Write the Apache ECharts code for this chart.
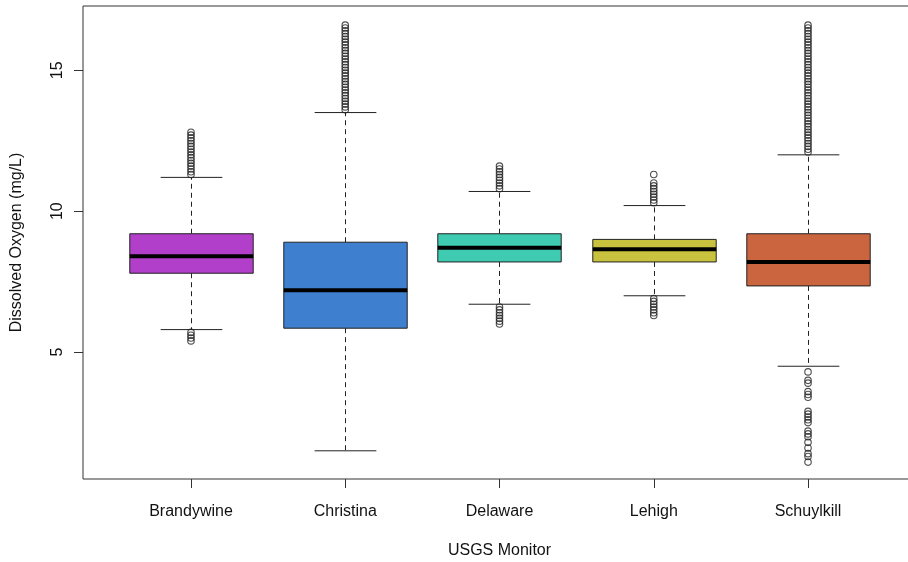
<!DOCTYPE html>
<html>
<head>
<meta charset="utf-8">
<script src="https://cdn.jsdelivr.net/npm/echarts@6/dist/echarts.min.js"></script>
<style>
html,body{margin:0;padding:0;background:#fff;}
#chart{width:908px;height:562px;}
</style>
</head>
<body>
<div id="chart"></div>
<script>
// ---- data ----
const categories = ['Brandywine', 'Christina', 'Delaware', 'Lehigh', 'Schuylkill'];
const whiskerLow  = [5.8, 1.5, 6.7, 7.0, 4.5];
const q1          = [7.8, 5.85, 8.2, 8.2, 7.35];
const medians     = [8.4, 7.2, 8.7, 8.65, 8.2];
const q3          = [9.2, 8.9, 9.2, 9.0, 9.2];
const whiskerHigh = [11.2, 13.5, 10.7, 10.2, 12.0];

const brandywineOutliers = [11.3, 11.4, 11.5, 11.6, 11.7, 11.8, 11.9, 12.0, 12.1, 12.2, 12.3, 12.4, 12.5, 12.6, 12.7, 12.8,
  5.7, 5.6, 5.5, 5.4];
const christinaOutliers = [13.6, 13.7, 13.8, 13.9, 14.0, 14.1, 14.2, 14.3, 14.4, 14.5, 14.6, 14.7, 14.8, 14.9, 15.0,
  15.1, 15.2, 15.3, 15.4, 15.5, 15.6, 15.7, 15.8, 15.9, 16.0, 16.1, 16.2, 16.3, 16.4, 16.5, 16.6];
const delawareOutliers = [10.8, 10.9, 11.0, 11.1, 11.2, 11.3, 11.4, 11.5, 11.6,
  6.6, 6.5, 6.4, 6.3, 6.2, 6.1, 6.0];
const lehighOutliers = [10.3, 10.4, 10.5, 10.6, 10.7, 10.8, 10.9, 11.0, 11.3,
  6.9, 6.8, 6.7, 6.6, 6.5, 6.4, 6.3];
const schuylkillOutliers = [12.1, 12.2, 12.3, 12.4, 12.5, 12.6, 12.7, 12.8, 12.9, 13.0, 13.1, 13.2, 13.3, 13.4, 13.5,
  13.6, 13.7, 13.8, 13.9, 14.0, 14.1, 14.2, 14.3, 14.4, 14.5, 14.6, 14.7, 14.8, 14.9, 15.0, 15.1, 15.2, 15.3, 15.4,
  15.5, 15.6, 15.7, 15.8, 15.9, 16.0, 16.1, 16.2, 16.3, 16.4, 16.5, 16.6,
  4.3, 4.0, 3.9, 3.6, 3.5, 3.4, 2.9, 2.8, 2.7, 2.6, 2.5, 2.2, 2.1, 2.0, 1.8, 1.6, 1.4, 1.3, 1.1];
const outliers = [brandywineOutliers, christinaOutliers, delawareOutliers, lehighOutliers, schuylkillOutliers];
const yTicks = [5, 10, 15];

// ---- styles ----
const boxColors = ['#B13FC9', '#3F7FCF', '#3FCBB1', '#C9C23F', '#CA653F'];
const FONT = '"Liberation Sans", Arial, sans-serif';

const boxData = categories.map((c, i) => [i + 1, whiskerLow[i], q1[i], medians[i], q3[i], whiskerHigh[i]]);
const outlierData = [];
outliers.forEach((list, i) => list.forEach(v => outlierData.push([i + 1, v])));

const chart = echarts.init(document.getElementById('chart'), null, {renderer: 'canvas'});
chart.setOption({
  animation: false,
  backgroundColor: '#fff',
  grid: {left: 83, top: 6, right: -8, bottom: 83, outerBoundsMode: 'none', containLabel: false,
    show: true, borderColor: '#333', borderWidth: 1, backgroundColor: 'transparent'},
  xAxis: {
    type: 'value', min: 0.3, max: 5.7,
    splitLine: {show: false},
    axisLine: {show: false},
    axisTick: {show: true, length: 9, customValues: [1, 2, 3, 4, 5], lineStyle: {color: '#333'}},
    axisLabel: {customValues: [1, 2, 3, 4, 5], margin: 25, color: '#111', fontSize: 16, fontFamily: FONT,
      formatter: v => categories[Math.round(v) - 1] || ''},
    name: 'USGS Monitor', nameLocation: 'middle', nameGap: 64,
    nameTextStyle: {color: '#111', fontSize: 16, fontFamily: FONT}
  },
  yAxis: {
    type: 'value', min: 0.5, max: 17.28,
    splitLine: {show: false},
    axisLine: {show: false},
    axisTick: {show: true, length: 9, customValues: yTicks, lineStyle: {color: '#333'}},
    axisLabel: {customValues: yTicks, rotate: 90, margin: 17, color: '#111', fontSize: 16, fontFamily: FONT},
    name: 'Dissolved Oxygen (mg/L)', nameLocation: 'middle', nameGap: 58, nameRotate: 90,
    nameTextStyle: {color: '#111', fontSize: 16, fontFamily: FONT}
  },
  series: [
    {
      type: 'custom',
      data: boxData,
      encode: {x: 0, y: [1, 2, 3, 4, 5]},
      renderItem: function (params, api) {
        const x = api.value(0);
        const lo = api.coord([x, api.value(1)]);
        const b1 = api.coord([x, api.value(2)]);
        const md = api.coord([x, api.value(3)]);
        const b3 = api.coord([x, api.value(4)]);
        const hi = api.coord([x, api.value(5)]);
        const unit = api.size([1, 0])[0];
        const bw = unit * 0.4, cw = unit * 0.2;
        const cx = Math.round(lo[0]) + 0.5;
        const dash = {stroke: '#222', lineWidth: 1, lineDash: [5, 4]};
        const solid = {stroke: '#222', lineWidth: 1};
        return {type: 'group', children: [
          {type: 'line', shape: {x1: cx, y1: b3[1], x2: cx, y2: hi[1]}, style: dash},
          {type: 'line', shape: {x1: cx, y1: b1[1], x2: cx, y2: lo[1]}, style: dash},
          {type: 'line', shape: {x1: cx - cw, y1: hi[1], x2: cx + cw, y2: hi[1]}, style: solid},
          {type: 'line', shape: {x1: cx - cw, y1: lo[1], x2: cx + cw, y2: lo[1]}, style: solid},
          {type: 'rect', shape: {x: cx - bw, y: b3[1], width: 2 * bw, height: b1[1] - b3[1]},
            style: {fill: boxColors[params.dataIndex], stroke: '#222', lineWidth: 1}},
          {type: 'line', shape: {x1: cx - bw, y1: md[1], x2: cx + bw, y2: md[1]}, style: {stroke: '#000', lineWidth: 4}}
        ]};
      },
      z: 2
    },
    {
      type: 'scatter',
      data: outlierData,
      symbol: 'circle',
      symbolSize: 6.5,
      itemStyle: {color: 'rgba(0,0,0,0)', borderColor: '#222', borderWidth: 1.1},
      z: 3
    }
  ]
});
</script>
</body>
</html>
